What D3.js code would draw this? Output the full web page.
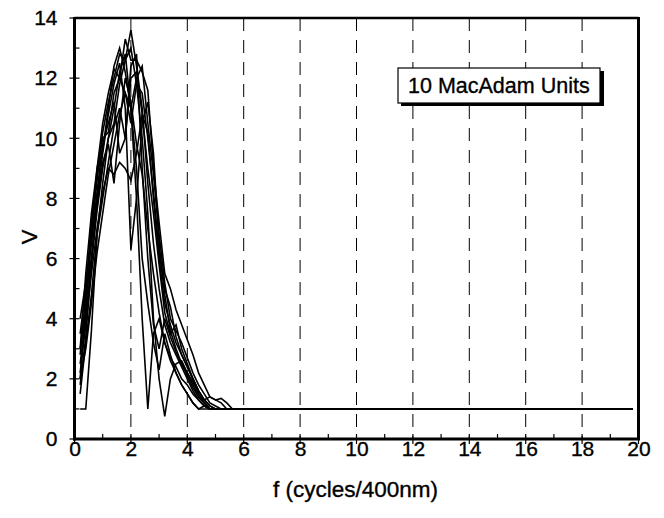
<!DOCTYPE html>
<html><head><meta charset="utf-8">
<script src="https://cdn.jsdelivr.net/npm/d3@7"></script>
<style>body{margin:0;background:#fff}svg{display:block}text{font-family:"Liberation Sans",Arial,sans-serif;fill:#000;stroke:#000;stroke-width:0.35px}</style>
</head><body><svg id="c" width="664" height="518"></svg>
<script>
const freqs = [0.2,0.4,0.6,0.8,1.0,1.2,1.4,1.6,1.8,2.0,2.2,2.4,2.6,2.8,3.0,3.2,3.4,3.6,3.8,4.0,4.2,4.4,4.6,4.8,5.0,5.2,5.4,5.6,5.8];
const tailF = 19.8, tailV = 1.0;
const s1  = [2.0,4.5,6.8,8.6,10.2,11.2,12.0,12.8,12.6,13.6,12.4,11.0,8.5,6.5,5.0,3.8,3.2,2.8,2.4,2.0,1.6,1.3,1.1,1.0,1.0,1.0,1.0,1.0,1.0];
const s2  = [3.0,5.5,7.5,9.0,10.5,11.5,12.3,12.0,13.3,12.6,12.6,12.2,11.6,9.0,7.2,5.5,5.0,4.3,3.8,3.3,2.8,2.2,1.8,1.4,1.3,1.35,1.2,1.0,1.0];
const s3  = [1.0,1.0,3.6,6.8,8.5,10.0,11.0,12.2,12.8,11.0,9.0,6.0,4.5,3.2,2.3,3.5,2.8,2.2,1.8,1.5,1.2,1.0,1.1,1.0,1.0,1.0,1.0,1.0,1.0];
const s4  = [2.5,4.0,6.0,8.0,9.5,10.8,11.8,12.5,11.0,6.3,8.0,10.5,11.2,9.5,6.5,4.8,3.6,3.0,2.5,2.1,1.7,1.4,1.2,1.0,1.0,1.0,1.0,1.0,1.0];
const s5  = [3.5,5.0,7.2,8.8,9.6,11.0,12.4,13.0,12.2,11.0,8.0,4.0,1.0,3.5,4.0,3.2,2.6,2.2,1.8,1.5,1.2,1.0,1.0,1.0,1.0,1.0,1.0,1.0,1.0];
const s6  = [1.8,3.4,5.8,7.6,9.0,10.0,10.5,11.8,12.6,13.0,11.8,10.0,7.5,4.0,2.0,0.75,2.0,2.5,2.6,2.2,1.8,1.4,1.2,1.0,1.0,1.0,1.0,1.0,1.0];
const s7  = [2.2,3.8,5.5,7.0,8.2,9.0,8.8,9.2,9.0,8.6,9.5,10.8,10.2,8.0,6.0,4.5,3.8,3.2,2.8,2.4,2.0,1.6,1.3,1.1,1.0,1.0,1.0,1.0,1.0];
const s8  = [4.0,5.2,6.5,8.2,9.8,10.5,11.2,9.5,10.0,12.0,12.2,10.8,9.0,7.5,5.8,4.2,3.5,3.8,3.0,2.5,2.0,1.6,1.3,1.1,1.0,1.0,1.0,1.0,1.0];
const s9  = [1.5,3.2,4.8,6.8,8.0,9.2,10.4,11.0,10.0,12.4,12.8,9.0,6.0,3.8,3.0,4.0,3.4,2.9,2.5,2.2,1.9,1.5,1.2,1.0,1.0,1.0,1.0,1.0,1.0];
const s10 = [3.0,4.2,6.8,9.0,10.0,10.2,11.5,12.0,11.5,10.5,11.8,11.5,10.0,8.2,6.2,5.0,4.4,3.4,2.8,2.4,2.0,1.6,1.3,1.4,1.3,1.2,1.0,1.0,1.0];
const s11 = [2.8,4.8,6.0,7.8,9.2,9.8,8.5,10.5,12.0,11.2,9.8,8.8,7.0,5.5,4.2,3.2,2.7,2.4,2.0,1.8,1.5,1.3,1.1,1.0,1.0,1.0,1.0,1.0,1.0];
const s12 = [2.0,3.0,4.5,6.2,7.5,8.8,9.8,10.8,11.5,11.0,12.0,12.4,10.5,8.8,6.8,5.2,4.0,3.6,3.2,2.7,2.2,1.8,1.5,1.2,1.1,1.0,1.0,1.0,1.0];
const seriesList = [s1,s2,s3,s4,s5,s6,s7,s8,s9,s10,s11,s12];
const xTicks = [0,2,4,6,8,10,12,14,16,18,20];
const yTicks = [0,2,4,6,8,10,12,14];
const gridX = [2,4,6,8,10,12,14,16,18];
const legendText = "10 MacAdam Units";
const xTitle = "f (cycles/400nm)";
const yTitle = "V";

const svg = d3.select("#c");
const L=74.5, R=638.5, T=18, B=439;
const x = d3.scaleLinear().domain([0,20]).range([L,R]);
const y = d3.scaleLinear().domain([0,14]).range([B,T]);

// grid
svg.append("g").selectAll("line").data(gridX).join("line")
  .attr("x1",d=>x(d)).attr("x2",d=>x(d)).attr("y1",T).attr("y2",B)
  .attr("stroke","#000").attr("stroke-width",1).attr("stroke-dasharray","13,9");

// curves
const line = d3.line().x(d=>x(d[0])).y(d=>y(d[1]));
svg.append("g").selectAll("path").data(seriesList).join("path")
  .attr("d",s=>line(freqs.map((f,i)=>[f,s[i]]).concat([[tailF,tailV]])))
  .attr("fill","none").attr("stroke","#000").attr("stroke-width",1.6).attr("stroke-linejoin","miter");

// ticks: major crossing, minor inside
const minorX = d3.range(1,20,2), minorY = d3.range(1,14,2);
const tk = svg.append("g").attr("stroke","#000").attr("stroke-width",1.2);
tk.selectAll(".mx").data(xTicks).join("line").attr("x1",d=>x(d)).attr("x2",d=>x(d)).attr("y1",B-5).attr("y2",B+5);
tk.selectAll(".nx").data(minorX).join("line").attr("class","nx").attr("x1",d=>x(d)).attr("x2",d=>x(d)).attr("y1",B-5).attr("y2",B);
tk.selectAll(".my").data(yTicks).join("line").attr("class","my").attr("x1",L-5).attr("x2",L+5).attr("y1",d=>y(d)).attr("y2",d=>y(d));
tk.selectAll(".ny").data(minorY).join("line").attr("class","ny").attr("x1",L).attr("x2",L+5).attr("y1",d=>y(d)).attr("y2",d=>y(d));

// frame
svg.append("line").attr("x1",L).attr("x2",R).attr("y1",T).attr("y2",T).attr("stroke","#000").attr("stroke-width",2.5);
svg.append("line").attr("x1",R).attr("x2",R).attr("y1",T-1).attr("y2",B).attr("stroke","#000").attr("stroke-width",3);
svg.append("line").attr("x1",L).attr("x2",L).attr("y1",T-1).attr("y2",B+1.5).attr("stroke","#000").attr("stroke-width",3);
svg.append("line").attr("x1",L-1.5).attr("x2",R+1.5).attr("y1",B).attr("y2",B).attr("stroke","#000").attr("stroke-width",3);

// axis labels via d3 axes (no tick lines)
const ax = svg.append("g").attr("transform",`translate(0,${B})`)
  .call(d3.axisBottom(x).tickValues(xTicks).tickSize(0).tickPadding(2).tickFormat(d3.format("d")));
ax.select(".domain").remove();
ax.selectAll("text").attr("font-size",21).attr("font-family","Liberation Sans, Arial, sans-serif");
const ay = svg.append("g").attr("transform",`translate(${L},0)`)
  .call(d3.axisLeft(y).tickValues(yTicks).tickSize(0).tickPadding(17).tickFormat(d3.format("d")));
ay.select(".domain").remove();
ay.selectAll("text").attr("font-size",21).attr("font-family","Liberation Sans, Arial, sans-serif");

svg.append("text").attr("x",(L+R)/2-1).attr("y",497).attr("text-anchor","middle").attr("font-size",22.5).text(xTitle);
svg.append("text").attr("transform","translate(37,237) rotate(-90)").attr("text-anchor","middle").attr("font-size",22).text(yTitle);

// legend box with shadow
svg.append("rect").attr("x",401).attr("y",71).attr("width",203).attr("height",35).attr("fill","#000");
svg.append("rect").attr("x",398).attr("y",68).attr("width",202).attr("height",35).attr("fill","#fff").attr("stroke","#000").attr("stroke-width",1.2);
svg.append("text").attr("x",408).attr("y",93).attr("font-size",21.5).text(legendText);
</script></body></html>
